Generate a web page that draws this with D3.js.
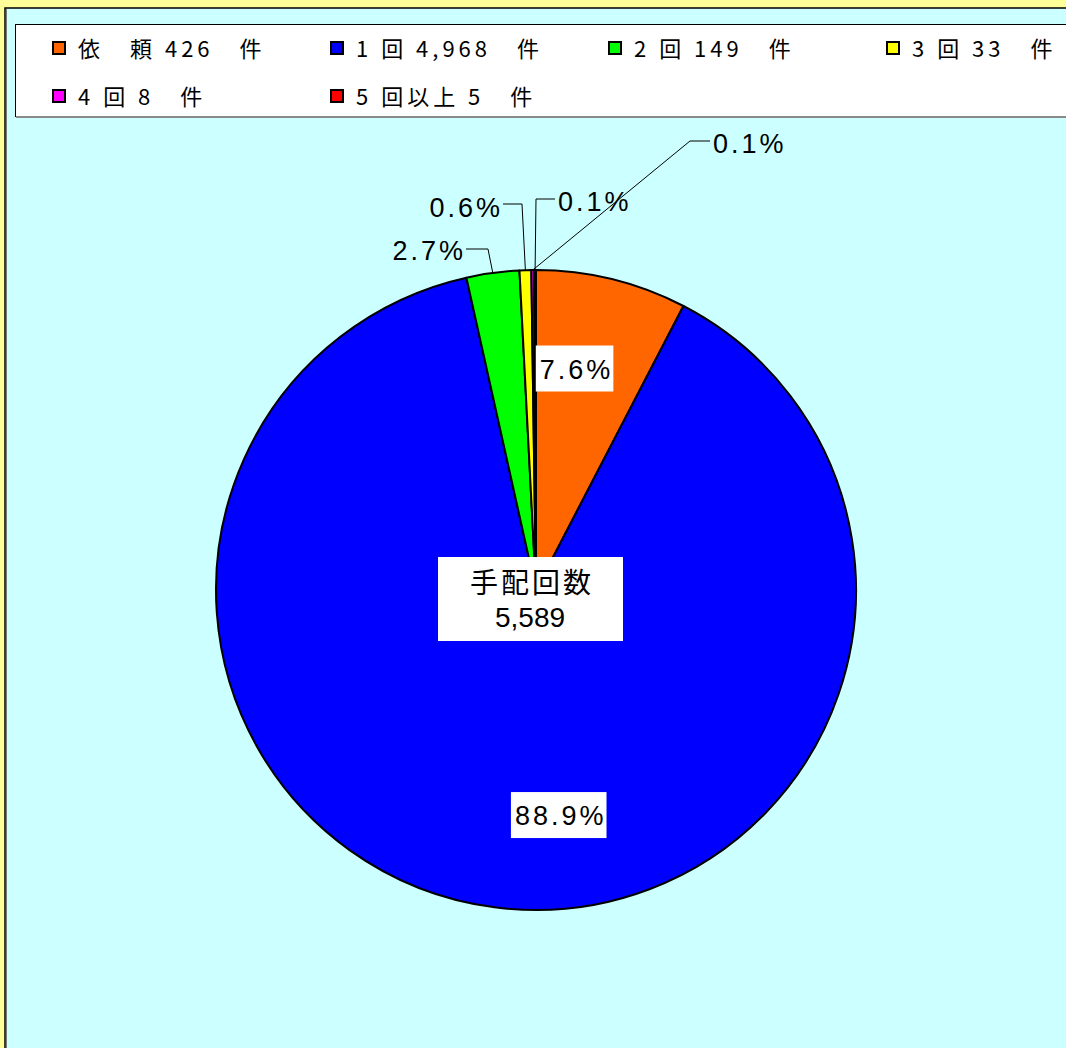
<!DOCTYPE html>
<html><head><meta charset="utf-8">
<script src="https://cdn.jsdelivr.net/npm/d3@7"></script>
<style>
html,body{margin:0;padding:0;background:#FFFF99;}
svg{display:block;}
</style></head>
<body>
<svg id="chart" width="1066" height="1048"></svg>
<script>
// ---- data ----
const categories = ["依　頼", "1 回", "2 回", "3 回", "4 回", "5 回以上"];
const values = [426, 4968, 149, 33, 8, 5];
const legendLabels = ["依　頼 426　件", "1 回 4,968　件", "2 回 149　件", "3 回 33　件", "4 回 8　件", "5 回以上 5　件"];
const colors = ["#FF6600", "#0000FF", "#00FF00", "#FFFF00", "#FF00FF", "#FF0000"];
const centerTitle = "手配回数";
const centerTotal = "5,589";

// ---- layout ----
const W = 1066, H = 1048;
const cx = 536, cy = 590, R = 320;
const svg = d3.select("#chart");
const FONT = "'Liberation Sans','Noto Sans CJK JP',sans-serif";
const JFONT = "'Noto Sans CJK JP','Liberation Sans',sans-serif";

// backgrounds
svg.append("rect").attr("x",0).attr("y",0).attr("width",W).attr("height",H).attr("fill","#FFFF99");
svg.append("rect").attr("x",5).attr("y",8).attr("width",W+10).attr("height",H+10)
  .attr("fill","#CCFFFF").attr("stroke","#000").attr("stroke-width",1.5);
svg.append("line").attr("x1",6.5).attr("x2",6.5).attr("y1",9).attr("y2",H).attr("stroke","#777").attr("stroke-width",1);

// legend box
const lg = svg.append("g");
lg.append("rect").attr("x",15.5).attr("y",24.5).attr("width",W).attr("height",92)
  .attr("fill","#fff").attr("stroke","#000").attr("stroke-width",1);
lg.append("line").attr("x1",16).attr("x2",W).attr("y1",117).attr("y2",117).attr("stroke","#888").attr("stroke-width",2);

const colX = d3.scalePoint().domain([0,1,2,3]).range([52, 886]);
const rowY = d3.scalePoint().domain([0,1]).range([47, 95]);
legendLabels.forEach((t,i)=>{
  const x = colX(i%4), y = rowY(Math.floor(i/4));
  lg.append("rect").attr("x",x+1).attr("y",y-5).attr("width",12).attr("height",12)
    .attr("fill",colors[i]).attr("stroke","#000").attr("stroke-width",2);
  lg.append("text").attr("x",x+26).attr("y",y+10).text(t)
    .attr("font-family",JFONT).attr("font-size",22).attr("letter-spacing","4px").attr("fill","#000");
});

// pie
const pie = d3.pie().sort(null).value(d=>d).startAngle(0).endAngle(2*Math.PI);
const arcs = pie(values);
const arc = d3.arc().innerRadius(0).outerRadius(R);
const g = svg.append("g").attr("transform",`translate(${cx},${cy})`);
g.selectAll("path").data(arcs).join("path")
  .attr("d",arc).attr("fill",(d,i)=>colors[i])
  .attr("stroke","#000").attr("stroke-width",2).attr("stroke-linejoin","round");

const total = d3.sum(values);
const fmt = d3.format(".1f");
const pctNum = v => fmt(100*v/total);

function pctLabel(sel, x, y, anchor, v){
  const t = sel.append("text").attr("x",x).attr("y",y).attr("text-anchor",anchor)
    .attr("font-family",FONT).attr("font-size",27).attr("fill","#000");
  t.append("tspan").attr("letter-spacing","3px").text(pctNum(v));
  t.append("tspan").attr("letter-spacing","0px").text("%");
  return t;
}

// inside labels: radius + offset layout
const inside = {0:{r:228, dx:-15, dy:0}, 1:{r:230, dx:53, dy:-3}};
Object.keys(inside).forEach(k=>{
  const i = +k, L = inside[k];
  const c = d3.arc().innerRadius(L.r).outerRadius(L.r).centroid(arcs[i]);
  const x = c[0]+L.dx, y = c[1]+L.dy;
  const t = pctLabel(g, x, y+10, "middle", values[i]);
  const bb = t.node().getBBox();
  g.insert("rect","text").attr("x",bb.x-4).attr("y",y-23).attr("width",bb.width+7).attr("height",46).attr("fill","#fff");
});

// outside labels with leaders (layout relative to pie center)
const outside = [
  {i:2, tx:-73, ty:-330, anchor:"end",   ex:-48, ey:-341},
  {i:3, tx:-36, ty:-373, anchor:"end",   ex:-14, ey:-386},
  {i:5, tx: 22, ty:-379, anchor:"start", ex:  0, ey:-391},
  {i:4, tx:177, ty:-437, anchor:"start", ex:154, ey:-449}
];
const onArc = d3.arc().innerRadius(R).outerRadius(R);
outside.forEach(o=>{
  const p = onArc.centroid(arcs[o.i]);
  const hx = o.anchor==="end" ? o.tx+3 : o.tx-3;
  g.append("path").attr("d",`M${hx},${o.ey}L${o.ex},${o.ey}L${p[0]},${p[1]}`)
    .attr("fill","none").attr("stroke","#000").attr("stroke-width",1);
  pctLabel(g, o.tx, o.ty, o.anchor, values[o.i]);
});

// center label
const cl = g.append("g");
cl.append("rect").attr("x",-98).attr("y",-33).attr("width",185).attr("height",84).attr("fill","#fff");
cl.append("text").attr("x",-4).attr("y",3).attr("text-anchor","middle")
  .attr("font-family",JFONT).attr("font-size",28).attr("letter-spacing","3px").text(centerTitle);
cl.append("text").attr("x",-6).attr("y",37).attr("text-anchor","middle")
  .attr("font-family",FONT).attr("font-size",28).text(centerTotal);
</script>
</body></html>
